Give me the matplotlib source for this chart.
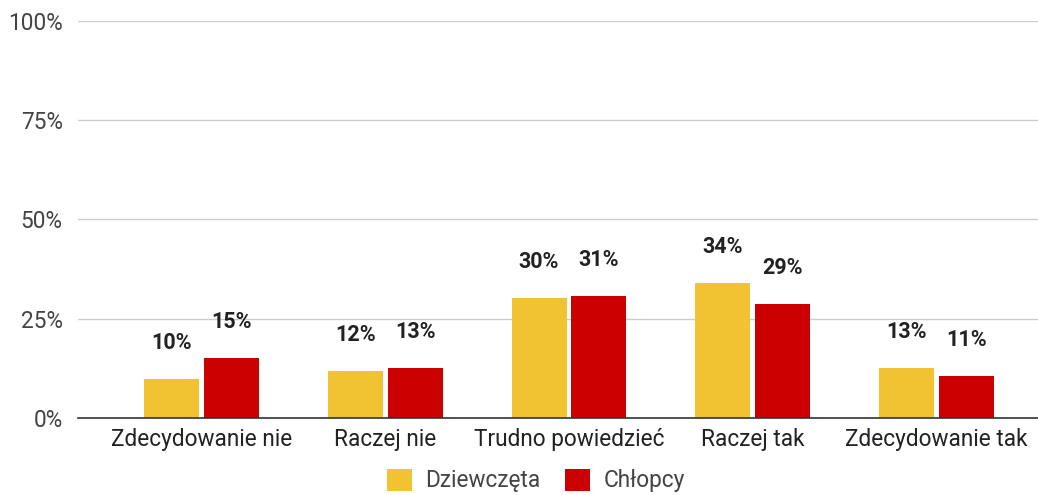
import numpy as np
import matplotlib.pyplot as plt
from matplotlib.ticker import PercentFormatter

categories = ["Zdecydowanie nie", "Raczej nie", "Trudno powiedzieć", "Raczej tak", "Zdecydowanie tak"]
dziewczeta = [9.9, 11.9, 30.3, 34.1, 12.7]
chlopcy = [15.2, 12.7, 30.8, 28.8, 10.6]
series_names = ["Dziewczęta", "Chłopcy"]
colors = ["#F1C232", "#CC0000"]

plt.rcParams['font.family'] = ['Roboto', 'DejaVu Sans']

fig = plt.figure(figsize=(10.38, 4.95), dpi=100)
ax = fig.add_axes([0.0751, 0.1556, 0.9249, 0.802])

x = np.arange(len(categories))
w = 0.30
off = 0.163
for vals, name, c, d in [(dziewczeta, series_names[0], colors[0], -off),
                         (chlopcy, series_names[1], colors[1], off)]:
    bars = ax.bar(x + d, vals, width=w, color=c, label=name, zorder=3)
    for b, v in zip(bars, vals):
        ax.annotate(f"{round(v)}%", (b.get_x() + b.get_width() / 2, v),
                    xytext=(0, 18), textcoords="offset points",
                    ha="center", va="bottom", fontsize=15.5, fontweight="bold",
                    color="#222222")

ax.set_xlim(-0.674, 4.554)
ax.set_ylim(0, 100)
ax.set_yticks([0, 25, 50, 75, 100])
ax.yaxis.set_major_formatter(PercentFormatter(decimals=0))
ax.set_xticks(x)
ax.set_xticklabels(categories)
ax.tick_params(axis="both", length=0, labelsize=16.3, colors="#444444")
ax.tick_params(axis="x", pad=7, colors="#222222")
ax.tick_params(axis="y", pad=11)
ax.grid(axis="y", color="#CCCCCC", linewidth=1, zorder=0)
for s in ["top", "right", "left"]:
    ax.spines[s].set_visible(False)
ax.spines["bottom"].set_color("#333333")
ax.spines["bottom"].set_linewidth(1.2)
ax.spines["bottom"].set_zorder(4)

ax.legend(loc="center", bbox_to_anchor=(0.477, -0.158), ncol=2, frameon=False,
          fontsize=16.3, handlelength=1.1, handleheight=1.1, columnspacing=1.1,
          handletextpad=0.6, labelcolor="#444444", borderpad=0.2)

fig.savefig("out.png", dpi=100)
